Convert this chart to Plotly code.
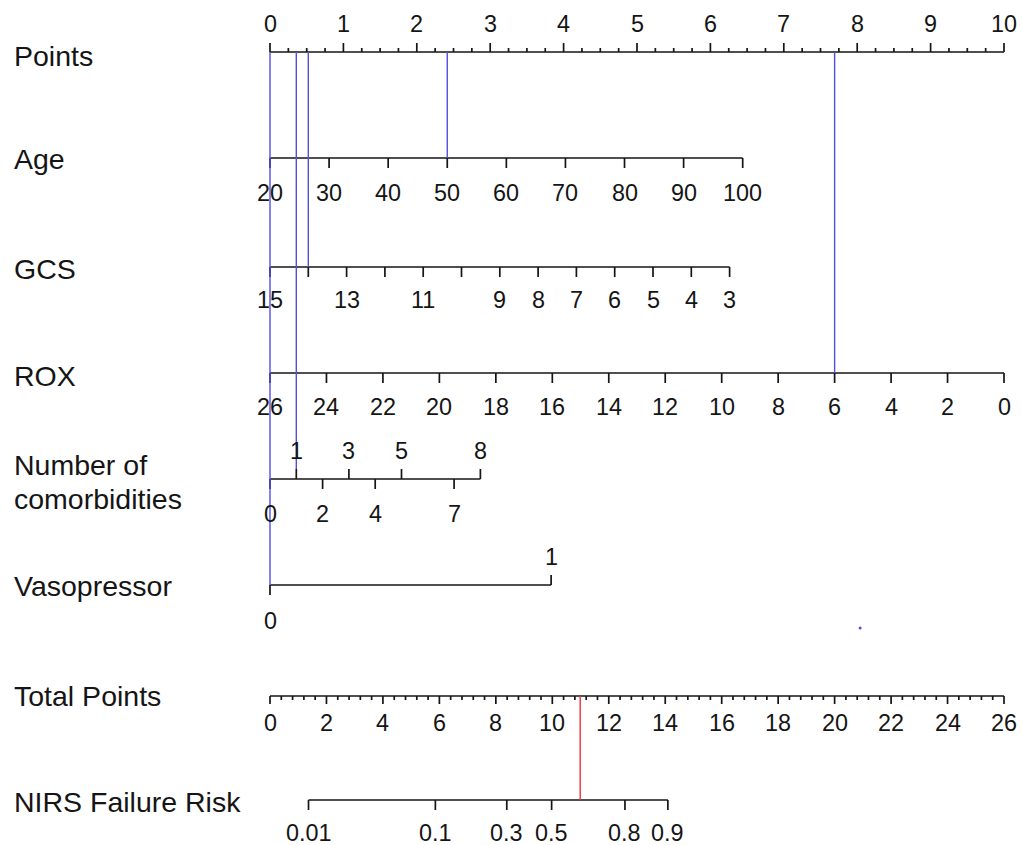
import numpy as np
import plotly.graph_objects as go

# ---------------- data ----------------
points_major = list(range(0, 11))                     # Points scale 0..10
points_minor_step = 0.25
age_ticks = [20, 30, 40, 50, 60, 70, 80, 90, 100]
gcs_ticks = [15, 14, 13, 12, 11, 10, 9, 8, 7, 6, 5, 4, 3]
gcs_labels = ["15", "", "13", "", "11", "", "9", "8", "7", "6", "5", "4", "3"]
rox_ticks = [26, 24, 22, 20, 18, 16, 14, 12, 10, 8, 6, 4, 2, 0]
comorb_up = [1, 3, 5, 8]
comorb_down = [0, 2, 4, 7]
vaso_up = [1]
vaso_down = [0]
total_major = list(range(0, 27, 2))
total_minor_step = 0.4
total_max = 26
risk_ticks = [0.01, 0.1, 0.3, 0.5, 0.8, 0.9]
risk_labels = ["0.01", "0.1", "0.3", "0.5", "0.8", "0.9"]

# model: points contributed per unit of each predictor
age_ref, age_pts = 20, 0.0805
gcs_ref, gcs_pts = 15, 0.5218
rox_ref, rox_pts = 26, 10 / 26
comorb_pts = 0.3583
vaso_pts = 3.83
lp_intercept, lp_slope = -5.323, 0.5336   # linear predictor vs total points

# example patient
patient = dict(age=50, gcs=14, rox=6, comorb=1, vaso=0)
stray_dot_points = 8.04


def age_p(v): return (np.asarray(v, float) - age_ref) * age_pts
def gcs_p(v): return (gcs_ref - np.asarray(v, float)) * gcs_pts
def rox_p(v): return (rox_ref - np.asarray(v, float)) * rox_pts
def com_p(v): return np.asarray(v, float) * comorb_pts
def vas_p(v): return np.asarray(v, float) * vaso_pts
def tot_p(t): return np.asarray(t, float) * 10 / total_max
def risk_total(p):
    p = np.asarray(p, float)
    return (np.log(p / (1 - p)) - lp_intercept) / lp_slope


# ---------------- layout constants ----------------
W, H = 1022, 845
X0, PX = 270, 73.4
row = dict(points=52, age=158, gcs=267, rox=373, com=479, vaso=585, total=696, risk=800)
TITLE_FS, TICK_FS = 28.5, 23.4
FONT = "Liberation Sans, Arial, sans-serif"
BLACK = "#151515"
BLUE = "#5050e2"
RED = "#e8323c"

fig = go.Figure()
annos = []


def segs(xs, y0s, y1s):
    X, Y = [], []
    for x, a, b in zip(xs, y0s, y1s):
        X += [x, x, None]
        Y += [a, b, None]
    return X, Y


def add_lines(X, Y, color=BLACK, width=1.7):
    fig.add_trace(go.Scatter(x=X, y=Y, mode="lines", hoverinfo="skip",
                             line=dict(color=color, width=width), showlegend=False))


def axis(xmin, xmax, y):
    add_lines([xmin, xmax], [y, y])


def ticks(xs, y, length):
    X, Y = segs(xs, [y] * len(xs), [y + length] * len(xs))
    add_lines(X, Y)


def labels(xs, texts, y):
    for x, t in zip(xs, texts):
        if t == "":
            continue
        annos.append(dict(x=x, y=y, xref="x", yref="y", text=t, showarrow=False,
                          xanchor="center", yanchor="middle",
                          font=dict(size=TICK_FS, family=FONT, color=BLACK)))


def title(text, y):
    annos.append(dict(x=12 / W, y=y, xref="paper", yref="y", text=text,
                      showarrow=False, xanchor="left", yanchor="middle",
                      font=dict(size=TITLE_FS, family=FONT, color=BLACK)))


# Points
y = row["points"]
axis(0, 10, y)
ticks(points_major, y, -9)
minor = [v for v in np.arange(0, 10.0001, points_minor_step) if abs(v - round(v)) > 1e-6]
ticks(minor, y, -4)
labels(points_major, [str(v) for v in points_major], y - 28)
title("Points", y + 4)

# Age
y = row["age"]
ax = age_p(age_ticks)
axis(ax.min(), ax.max(), y)
ticks(ax, y, 10)
labels(ax, [str(v) for v in age_ticks], y + 35)
title("Age", y + 1)

# GCS
y = row["gcs"]
gx = gcs_p(gcs_ticks)
axis(gx.min(), gx.max(), y)
ticks(gx, y, 10)
labels(gx, gcs_labels, y + 33)
title("GCS", y + 2)

# ROX
y = row["rox"]
rx = rox_p(rox_ticks)
axis(rx.min(), rx.max(), y)
ticks(rx, y, 10)
labels(rx, [str(v) for v in rox_ticks], y + 34)
title("ROX", y + 3)

# Number of comorbidities
y = row["com"]
cu, cd = com_p(comorb_up), com_p(comorb_down)
axis(0, max(cu.max(), cd.max()), y)
ticks(cu, y, -10)
ticks(cd, y, 10)
labels(cu, [str(v) for v in comorb_up], y - 28)
labels(cd, [str(v) for v in comorb_down], y + 35)
title("Number of", y - 14)
title("comorbidities", y + 20)

# Vasopressor
y = row["vaso"]
vu, vd = vas_p(vaso_up), vas_p(vaso_down)
axis(0, vu.max(), y)
ticks(vu, y, -10)
ticks(vd, y, 10)
labels(vu, [str(v) for v in vaso_up], y - 28)
labels(vd, [str(v) for v in vaso_down], y + 36)
title("Vasopressor", y + 1)

# Total points
y = row["total"]
axis(0, tot_p(total_max), y)
tmaj = tot_p(total_major)
ticks(tmaj, y, 8)
tmin = [v for v in np.arange(0, total_max + 1e-6, total_minor_step)
        if abs(v / 2 - round(v / 2)) > 1e-6]
ticks(tot_p(tmin), y, 4)
labels(tmaj, [str(v) for v in total_major], y + 27)
title("Total Points", y)

# Risk
y = row["risk"]
rkx = tot_p(risk_total(risk_ticks))
axis(rkx.min(), rkx.max(), y)
ticks(rkx, y, 10)
labels(rkx, risk_labels, y + 33)
title("NIRS Failure Risk", y + 2)

# patient lines (blue) from Points axis down to each predictor
contrib = [
    (age_p(patient["age"]), row["age"]),
    (gcs_p(patient["gcs"]), row["gcs"]),
    (rox_p(patient["rox"]), row["rox"]),
    (com_p(patient["comorb"]), row["com"] - 10),
    (vas_p(patient["vaso"]), row["vaso"]),
]
X, Y = segs([float(c[0]) for c in contrib], [row["points"]] * len(contrib),
            [c[1] for c in contrib])
add_lines(X, Y, color=BLUE, width=1.4)

# total points -> risk (red)
total_pts = sum(float(c[0]) for c in contrib)
xr = float(tot_p(total_pts))
add_lines([xr, xr], [row["total"], row["risk"]], color=RED, width=1.4)

# stray dot
fig.add_trace(go.Scatter(x=[stray_dot_points], y=[628], mode="markers", hoverinfo="skip",
                         marker=dict(color=BLUE, size=3), showlegend=False))

fig.update_layout(
    width=W, height=H, margin=dict(l=0, r=0, t=0, b=0),
    paper_bgcolor="white", plot_bgcolor="white",
    xaxis=dict(range=[-X0 / PX, (W - X0) / PX], visible=False, fixedrange=True),
    yaxis=dict(range=[H, 0], visible=False, fixedrange=True),
    annotations=annos, showlegend=False,
)
fig.write_html(
    "out.html",
    config={"displayModeBar": False, "staticPlot": True},
    post_script=("document.body.style.margin='0';"
                 "document.body.style.overflow='hidden';"
                 "document.documentElement.style.overflow='hidden';"),
)
